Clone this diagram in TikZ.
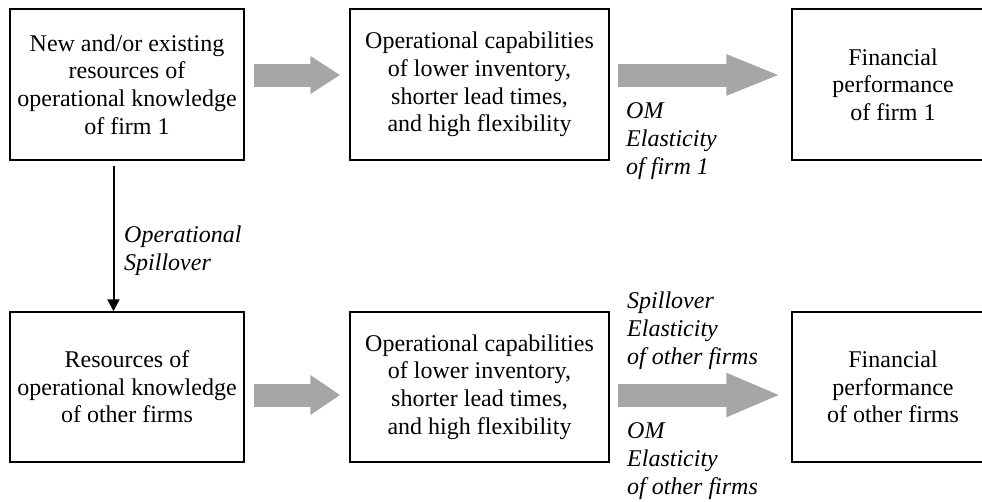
\documentclass[tikz,border=0pt]{standalone}
\usepackage{fontspec}
\setmainfont{Liberation Serif}
\usetikzlibrary{arrows.meta,calc}
\definecolor{arrgray}{HTML}{A6A6A6}
\tikzset{
  box/.style={draw=black, line width=1.5pt, inner sep=0pt, align=center,
    font=\fontsize{24}{27.6}\selectfont, minimum height=151pt},
  lbl/.style={inner sep=0pt, align=left, anchor=west,
    font=\fontsize{24}{28}\selectfont\itshape},
  bigarr/.style={draw=arrgray, line width=23pt},
  thinarr/.style={draw=black, line width=2pt, -{Triangle[length=12pt,width=12pt]}}
}
\begin{document}
\begin{tikzpicture}[x=1pt,y=-1pt]
\useasboundingbox (0,0) rectangle (982,501);
% top row
\node[box, minimum width=234pt] (b1) at (127,84.5) {New and/or existing\\resources of\\operational knowledge\\of firm 1};
\node[box, minimum width=259pt] (b2) at (479.5,84.5) {Operational capabilities\\of lower inventory,\\shorter lead times,\\and high flexibility};
\node[box, minimum width=202pt] (b3) at (893,84.5) {Financial\\performance\\of firm 1};
% bottom row
\node[box, minimum width=234pt, minimum height=150pt] (b4) at (127,387) {Resources of\\operational knowledge\\of other firms};
\node[box, minimum width=259pt, minimum height=150pt] (b5) at (479.5,387) {Operational capabilities\\of lower inventory,\\shorter lead times,\\and high flexibility};
\node[box, minimum width=202pt, minimum height=150pt] (b6) at (893,387) {Financial\\performance\\of other firms};
% gray arrows
\draw[bigarr, -{Triangle[length=30pt,width=36pt]}] ($(b1.east)+(9,-9.5)$) -- ($(b2.west)+(-9,-9.5)$);
\draw[bigarr, -{Triangle[length=55pt,width=37pt]}] ($(b2.east)+(8,-9.5)$) -- ($(b3.west)+(-10,-9.5)$);
\draw[bigarr, -{Triangle[length=30pt,width=38pt]}] ($(b4.east)+(9,8)$) -- ($(b5.west)+(-9,8)$);
\draw[bigarr, -{Triangle[length=55pt,width=40pt]}] ($(b5.east)+(8,8)$) -- ($(b6.west)+(-10,8)$);
% spillover arrow
\draw[thinarr] ($(b1.south)+(-13.5,5)$) -- ($(b4.north)+(-13.5,0)$);
% labels
\node[lbl] (l1) at (124,251) {Operational\\Spillover};
\node[lbl] (l2) at (626,141) {OM\\Elasticity\\of firm 1};
\node[lbl] (l3) at (627,331) {Spillover\\Elasticity\\of other firms};
\node[lbl] (l4) at (627,461) {OM\\Elasticity\\of other firms};
\end{tikzpicture}
\end{document}
